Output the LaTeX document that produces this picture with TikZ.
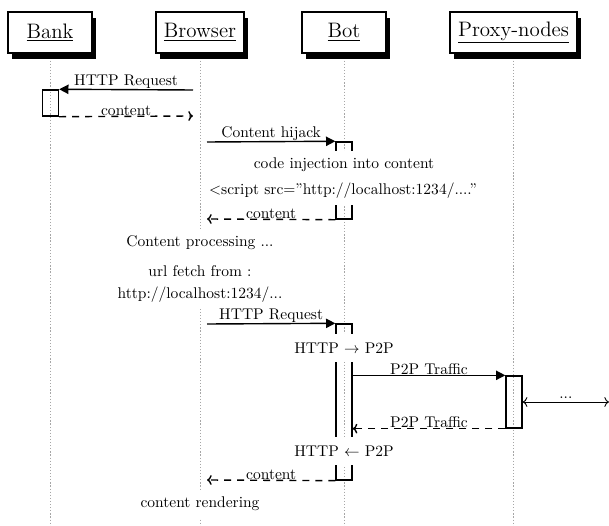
\documentclass[tikz,border=0pt]{standalone}
\usetikzlibrary{arrows.meta, shadows, calc}

\begin{document}
\begin{tikzpicture}[x=0.645pt, y=-0.645pt,
  hdr/.style={rectangle,draw,fill=white,line width=0.9pt,font=\fontsize{13.5}{16}\selectfont,inner xsep=5.2pt,minimum width=54.2pt,minimum height=26.4pt,drop shadow={fill=black,opacity=1,shadow xshift=2.6pt,shadow yshift=-3.9pt}},
  lf/.style={draw=gray!70,line width=0.5pt,dash pattern=on 0.8pt off 1.2pt},
  act/.style={rectangle,draw,line width=0.9pt,inner sep=0pt,minimum width=10.3pt},
  note/.style={fill=white,inner xsep=2pt,inner ysep=0pt,minimum height=17.5pt},
  msg/.style={-{Triangle[length=6pt,width=6pt]},line width=0.9pt},
  ret/.style={-{To[length=3pt]},line width=0.9pt,dash pattern=on 4.5pt off 3.9pt},
  lbl/.style={above,inner sep=0pt,midway}
]
  \useasboundingbox (0,0) rectangle (609,526);
  \node[hdr] (bank)    at (50,32.5)    {\underline{Bank}};
  \node[hdr] (browser) at (200,32.5)   {\underline{Browser}};
  \node[hdr] (bot)     at (344,32.5)   {\underline{Bot}};
  \node[hdr] (proxy)   at (513.5,32.5) {\underline{Proxy-nodes}};
  \coordinate (bottom) at (0,526);
  \foreach \n in {bank,browser,bot,proxy} { \draw[lf] ([yshift=-4.5pt]\n.south) -- (\n |- bottom); }

  \node[act,minimum height=16.8pt]  (bankAct) at (50.5,103) {};
  \node[act,minimum height=49.7pt]  (botActA) at (344,180.5) {};
  \node[act,minimum height=100.6pt] (botActB) at (344,402) {};
  \node[act,minimum height=33.5pt]  (proxAct) at (514,402) {};

  \node[note] (inject)  at (344,165) {code injection into content};
  \node[note] (script)  at (343,191) {<script src=''http://localhost:1234/....''};
  \node[note] (process) at (200,243) {Content processing ...};
  \node[note] (fetch)   at (200,271) {url fetch from :};
  \node[note] (url)     at (200,295) {http://localhost:1234/...};
  \node[note] (toP2P)   at (344,348) {HTTP $\rightarrow$ P2P};
  \node[note] (toHTTP)  at (344,451) {HTTP $\leftarrow$ P2P};
  \node[note] (render)  at (200,504) {content rendering};

  \coordinate (brReq)  at (193,90);
  \coordinate (brGet)  at (193,116);
  \coordinate (brHij)  at (207,142);
  \coordinate (brCnt)  at (207,219);
  \coordinate (brReq2) at (207,324);
  \coordinate (brCnt2) at (207,480);
  \coordinate (edgeR)  at (609,402);

  \draw[msg] (brReq) -- (bankAct.north east) node[lbl]{HTTP Request};
  \draw[ret] (bankAct.south east) -- (brGet) node[lbl]{content};
  \draw[msg] (brHij) -- (botActA.north west) node[lbl]{Content hijack};
  \draw[ret] (botActA.south west) -- (brCnt) node[lbl]{content};
  \draw[msg] (brReq2) -- (botActB.north west) node[lbl]{HTTP Request};
  \draw[msg] (proxAct.north west -| botActB.east) -- (proxAct.north west) node[lbl]{P2P Traffic};
  \draw[ret] (proxAct.south west) -- (proxAct.south west -| botActB.east) node[lbl]{P2P Traffic};
  \draw[{To[length=3pt]}-{To[length=3pt]},line width=0.6pt] (proxAct.east) -- (edgeR) node[lbl,yshift=2pt]{...};
  \draw[ret] (botActB.south west) -- (brCnt2) node[lbl]{content};
\end{tikzpicture}
\end{document}
